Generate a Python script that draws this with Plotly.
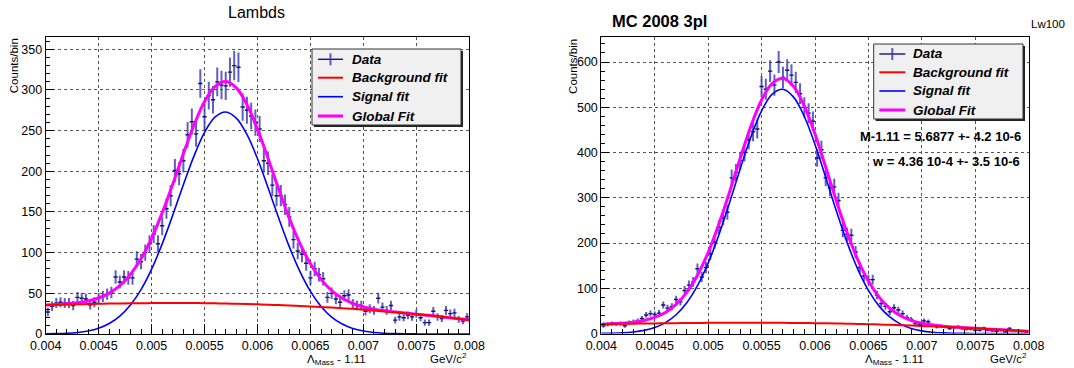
import numpy as np
import plotly.graph_objects as go

# ---------------------------------------------------------------- binning
X_MIN, X_MAX = 0.004, 0.008
BIN_WIDTH = 0.00004          # 100 bins of 4e-5 GeV/c^2

# ---------------------------------------------------------------- data
# Lambda mass - 1.11 histogram, real data ("Lambds")
lambds_counts = [
    27, 34, 38, 39, 38, 38, 35, 45, 44, 43,
    36, 39, 44, 46, 49, 51, 70, 64, 70, 69,
    69, 92, 89, 100, 111, 123, 111, 133, 154, 170,
    201, 197, 213, 245, 261, 246, 308, 267, 293, 288,
    310, 306, 305, 322, 330, 328, 279, 275, 268, 260,
    252, 213, 210, 183, 170, 170, 159, 144, 116, 102,
    98, 87, 69, 80, 73, 68, 45, 50, 43, 39,
    47, 48, 37, 35, 35, 28, 31, 29, 44, 33,
    29, 35, 17, 21, 20, 23, 21, 25, 20, 14,
    14, 28, 21, 19, 29, 25, 26, 18, 16, 21,
]

# Lambda mass - 1.11 histogram, Monte Carlo ("MC 2008 3pl")
mc_counts = [
    17, 20, 22, 21, 22, 17, 24, 26, 28, 33,
    41, 44, 42, 45, 63, 56, 59, 75, 70, 95,
    107, 114, 143, 125, 146, 176, 202, 235, 255, 268,
    344, 356, 382, 400, 428, 446, 452, 546, 540, 580,
    549, 600, 566, 582, 571, 555, 530, 500, 487, 469,
    388, 406, 344, 322, 324, 294, 228, 219, 217, 180,
    146, 127, 119, 119, 85, 66, 60, 48, 57, 52,
    44, 35, 31, 22, 20, 28, 26, 18, 15, 16,
    15, 11, 13, 15, 11, 10, 10, 7, 7, 12,
    7, 6, 5, 7, 4, 11, 6, 6, 5, 3,
]

# ---------------------------------------------------------------- fit curves
# sampled every 1e-4 GeV/c^2 from 0.004 to 0.008
lambds_bkg = [
    35.5, 35.9, 36.2, 36.5, 36.8, 37.1, 37.4, 37.6, 37.8, 37.9,
    38.0, 38.1, 38.1, 38.1, 38.0, 37.9, 37.7, 37.5, 37.2, 36.9,
    36.5, 36.1, 35.6, 35.1, 34.5, 33.9, 33.2, 32.5, 31.7, 30.9,
    29.8, 28.8, 27.7, 26.6, 25.5, 24.3, 23.0, 21.7, 20.3, 18.8,
    17.3,
]
lambds_sig = [
    0.2, 0.4, 0.9, 1.9, 3.8, 7.2, 12.9, 21.9, 35.5, 54.5,
    79.7, 110.8, 146.2, 183.5, 218.7, 247.8, 266.8, 273.0, 265.4, 245.3,
    215.4, 179.7, 142.6, 107.4, 77.0, 52.4, 33.9, 20.8, 12.2, 6.8,
    3.6, 1.8, 0.9, 0.4, 0.2, 0.1, 0.0, 0.0, 0.0, 0.0,
    0.0,
]
lambds_glob = [
    35.7, 36.3, 37.1, 38.4, 40.6, 44.3, 50.3, 59.5, 73.3, 92.4,
    117.7, 148.9, 184.3, 221.6, 256.7, 285.7, 304.5, 310.5, 302.6, 282.2,
    251.9, 215.8, 178.2, 142.5, 111.5, 86.3, 67.1, 53.3, 43.9, 37.7,
    33.4, 30.6, 28.6, 27.0, 25.7, 24.4, 23.0, 21.7, 20.3, 18.8,
    17.3,
]

mc_bkg = [
    20.5, 20.9, 21.3, 21.7, 22.0, 22.3, 22.6, 22.9, 23.1, 23.3,
    23.5, 23.6, 23.7, 23.8, 23.8, 23.8, 23.7, 23.6, 23.4, 23.2,
    22.9, 22.6, 22.2, 21.7, 21.2, 20.6, 19.9, 19.2, 18.4, 17.6,
    16.7, 15.8, 14.8, 13.7, 12.6, 11.4, 10.2, 8.9, 7.6, 6.2,
    4.8,
]
mc_sig = [
    0.3, 0.7, 1.6, 3.4, 6.9, 13.2, 24.0, 41.5, 68.0, 105.6,
    155.6, 217.7, 288.8, 363.7, 434.4, 492.2, 529.2, 539.8, 522.4, 479.6,
    417.9, 345.3, 270.8, 201.4, 142.2, 95.2, 60.5, 36.5, 20.8, 11.3,
    5.8, 2.9, 1.3, 0.6, 0.2, 0.1, 0.0, 0.0, 0.0, 0.0,
    0.0,
]
mc_glob = [
    20.8, 21.6, 22.9, 25.1, 28.9, 35.5, 46.6, 64.4, 91.1, 128.9,
    179.1, 241.3, 312.5, 387.5, 458.2, 516.0, 552.9, 563.4, 545.8, 502.8,
    440.8, 367.9, 293.0, 223.1, 163.4, 115.8, 80.4, 55.7, 39.2, 28.9,
    22.5, 18.7, 16.1, 14.3, 12.8, 11.5, 10.2, 8.9, 7.6, 6.2,
    4.8,
]

# ---------------------------------------------------------------- ticks
x_tick_labels = ["0.004", "0.0045", "0.005", "0.0055", "0.006",
                 "0.0065", "0.007", "0.0075", "0.008"]
lambds_y_ticks = [0, 50, 100, 150, 200, 250, 300, 350]
mc_y_ticks = [0, 100, 200, 300, 400, 500, 600]

legend_labels = ["Data", "Background fit", "Signal fit", "Global Fit"]

# ---------------------------------------------------------------- geometry
W, H = 1074, 368


def fx(px):
    return px / W


def fy(py):
    return 1 - py / H


FONT = "Liberation Sans, Arial, Helvetica, sans-serif"
DATA_H = "#14147a"
DATA_V = "rgba(55,55,175,0.8)"
C_BKG, C_SIG, C_GLOB = "#ff0000", "#0000ff", "#ff00ff"

n_bins = len(lambds_counts)
centers = X_MIN + BIN_WIDTH * (np.arange(n_bins) + 0.5)
fit_x = np.linspace(X_MIN, X_MAX, len(lambds_bkg))

fig = go.Figure()


def add_panel(counts, bkg, sig, glob, xa, ya):
    counts = np.asarray(counts, dtype=float)
    fig.add_trace(go.Scatter(
        x=centers, y=counts, mode="markers", xaxis=xa, yaxis=ya,
        marker=dict(size=1, color=DATA_H),
        error_x=dict(type="constant", value=BIN_WIDTH / 2, width=0,
                     thickness=1.4, color=DATA_H),
        error_y=dict(type="data", array=np.sqrt(counts), width=0,
                     thickness=2, color=DATA_V),
        hoverinfo="skip", showlegend=False))
    for vals, col, w in ((sig, C_SIG, 1.6), (glob, C_GLOB, 3.0), (bkg, C_BKG, 2.0)):
        fig.add_trace(go.Scatter(
            x=fit_x, y=vals, mode="lines", xaxis=xa, yaxis=ya,
            line=dict(color=col, width=w, shape="spline", smoothing=1.0),
            hoverinfo="skip", showlegend=False))


add_panel(lambds_counts, lambds_bkg, lambds_sig, lambds_glob, "x", "y")
add_panel(mc_counts, mc_bkg, mc_sig, mc_glob, "x2", "y2")

tick_vals = [float(t) for t in x_tick_labels]

common = dict(showline=True, linecolor="black", linewidth=1, mirror=True,
              ticks="inside", tickcolor="black", tickwidth=1,
              showgrid=True, gridcolor="#555555", griddash="dot", gridwidth=1,
              zeroline=False, automargin=False,
              tickfont=dict(family=FONT, size=12.5, color="black"))

L = (45.7, 469.3, 36.7, 334.0)     # left, right, top, bottom (px)
R = (601.3, 1028.7, 36.7, 333.5)

fig.update_layout(
    width=W, height=H, margin=dict(l=0, r=0, t=0, b=0),
    paper_bgcolor="white", plot_bgcolor="white", showlegend=False,
    font=dict(family=FONT, color="black"),
    xaxis=dict(common, domain=[fx(L[0]), fx(L[1])], range=[X_MIN, X_MAX],
               anchor="y", tickmode="array", tickvals=tick_vals,
               ticktext=x_tick_labels, ticklen=10,
               minor=dict(tickmode="linear", tick0=X_MIN, dtick=0.0001,
                          ticks="inside", ticklen=5, tickcolor="black",
                          showgrid=False)),
    yaxis=dict(common, domain=[fy(L[3]), fy(L[2])], range=[0, 365.5],
               anchor="x", tickmode="array", tickvals=lambds_y_ticks,
               ticklen=8,
               minor=dict(tickmode="linear", tick0=0, dtick=10,
                          ticks="inside", ticklen=4, tickcolor="black",
                          showgrid=False)),
    xaxis2=dict(common, domain=[fx(R[0]), fx(R[1])], range=[X_MIN, X_MAX],
                anchor="y2", tickmode="array", tickvals=tick_vals,
                ticktext=x_tick_labels, ticklen=10,
                minor=dict(tickmode="linear", tick0=X_MIN, dtick=0.0001,
                           ticks="inside", ticklen=5, tickcolor="black",
                           showgrid=False)),
    yaxis2=dict(common, domain=[fy(R[3]), fy(R[2])], range=[0, 656],
                anchor="x2", tickmode="array", tickvals=mc_y_ticks,
                ticklen=8,
                minor=dict(tickmode="linear", tick0=0, dtick=20,
                           ticks="inside", ticklen=4, tickcolor="black",
                           showgrid=False)),
)

shapes = []
annotations = []


def text(px, py, s, size, xanchor="left", yanchor="middle", bold=False,
         italic=False, angle=0):
    annotations.append(dict(
        x=fx(px), y=fy(py), xref="paper", yref="paper", text=s,
        showarrow=False, xanchor=xanchor, yanchor=yanchor, textangle=angle,
        font=dict(family=FONT, size=size, color="black",
                  weight="bold" if bold else "normal",
                  style="italic" if italic else "normal")))


def seg(x0, y0, x1, y1, color, width):
    shapes.append(dict(type="line", xref="paper", yref="paper",
                       x0=fx(x0), y0=fy(y0), x1=fx(x1), y1=fy(y1),
                       line=dict(color=color, width=width), layer="above"))


def legend(box, rows, sym_x, text_x):
    x0, y0, x1, y1 = box
    shapes.append(dict(type="rect", xref="paper", yref="paper",
                       x0=fx(x0 + 2), y0=fy(y1 + 2), x1=fx(x1 + 2), y1=fy(y0 + 2),
                       line=dict(width=0), fillcolor="#222222", layer="above"))
    shapes.append(dict(type="rect", xref="paper", yref="paper",
                       x0=fx(x0), y0=fy(y1), x1=fx(x1), y1=fy(y0),
                       line=dict(color="#333333", width=1),
                       fillcolor="#f0f0f0", layer="above"))
    styles = [(DATA_H, 1.4), (C_BKG, 2.0), (C_SIG, 1.6), (C_GLOB, 3.0)]
    for (label, (col, w), ry) in zip(legend_labels, styles, rows):
        seg(sym_x[0], ry, sym_x[1], ry, col, w)
        if label == "Data":
            mid = (sym_x[0] + sym_x[1]) / 2
            seg(mid, ry - 6, mid, ry + 6, DATA_V, 2)
        text(text_x, ry, label, 13.5, bold=True, italic=True)


legend((312, 49, 461, 125), (59.3, 77.7, 96.7, 116.0), (318, 343), 350)
legend((873.7, 44, 1023, 119), (54.0, 72.3, 91.0, 110.0), (879.3, 905.3), 911.3)

# titles
text(256, 13, "Lambds", 16, xanchor="center")
text(610.3, 21, "MC 2008 3pl", 16.5, bold=True)
text(1067, 24, "Lw100", 11.5, xanchor="right")

# axis titles
for cx, cy in ((14, 36.7), (572.7, 36.7)):
    text(cx, cy, "Counts/bin", 11.5, xanchor="center", yanchor="top", angle=-90)
for cx, rx in ((336, 469.3), (894.5, 1028.7)):
    text(cx, 351, "Λ<sub>Mass</sub> - 1.11", 11.5, xanchor="center", yanchor="top")
    text(rx, 349, "GeV/c<sup>2</sup>", 11.5, xanchor="right", yanchor="top")

# fit results
text(857.7, 136, "M-1.11 = 5.6877 +- 4.2 10-6", 13, bold=True)
text(869.7, 161, "w = 4.36 10-4 +- 3.5 10-6", 13, bold=True)

fig.update_layout(shapes=shapes, annotations=annotations)
fig.write_html("out.html")
